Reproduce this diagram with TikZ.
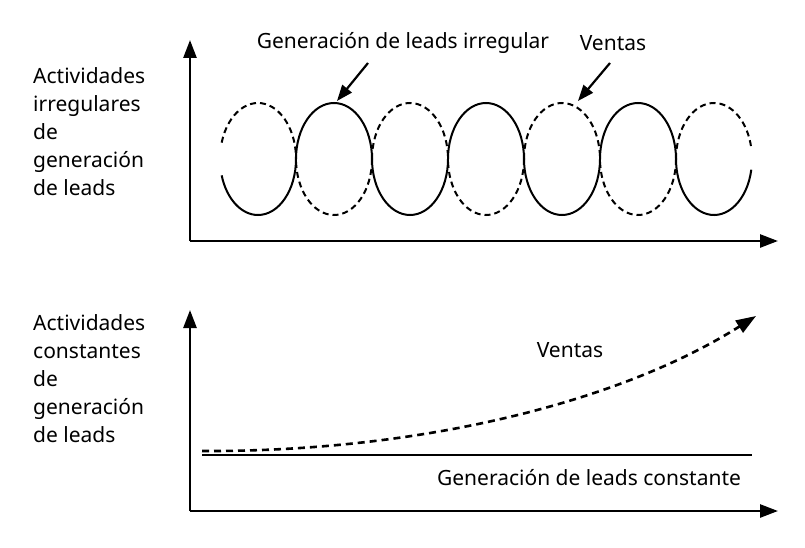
\documentclass[tikz,border=0pt]{standalone}
\usepackage{fontspec}
\setmainfont{Noto Sans}
\usetikzlibrary{arrows.meta}
\begin{document}
\begin{tikzpicture}[x=1pt,y=-1pt,
  >={Triangle[length=18pt,width=13pt]},
  every node/.style={font=\fontsize{21}{28}\selectfont, inner sep=0pt},
  axis/.style={->, line width=2.6pt},
  callout/.style={->, line width=2.2pt, >={Triangle[length=16pt,width=12pt]}},
  leads/.style={line width=2pt},
  sales/.style={line width=2pt, dash pattern=on 6pt off 4pt}]
\useasboundingbox (0,0) rectangle (805,548);

% top panel: axes
\coordinate (o1) at (190,241);
\coordinate (y1) at (190,40);
\coordinate (x1) at (778,241);
\draw [axis] (o1) -- (y1);
\draw [axis] (o1) -- (x1);

% labels
\node [anchor=north west, align=left] (irrlab) at (33,67) {Actividades\\irregulares\\de\\generación\\de leads};
\node (irrleads) at (403,43) {Generación de leads irregular};
\node (irrsales) at (613,43) {Ventas};

% irregular curves: sales dashed, leads solid
\foreach \cx/\a/\b in {258/197/360, 410/180/360, 562/180/360, 714/180/349}
  \draw [sales] (\cx,159) ++(\a:38 and 56) arc[start angle=\a, end angle=\b, x radius=38, y radius=56];
\foreach \cx in {334,486,638}
  \draw [sales] (\cx,159) ++(0:38 and 56) arc[start angle=0, end angle=180, x radius=38, y radius=56];
\foreach \cx/\a/\b in {258/0/163, 410/0/180, 562/0/180, 714/11/180}
  \draw [leads] (\cx,159) ++(\a:38 and 56) arc[start angle=\a, end angle=\b, x radius=38, y radius=56];
\foreach \cx in {334,486,638}
  \draw [leads] (\cx,159) ++(180:38 and 56) arc[start angle=180, end angle=360, x radius=38, y radius=56];

% callout arrows
\coordinate (irrfrom) at (368,63);
\coordinate (irrtip) at (337,101);
\coordinate (salfrom) at (610,63);
\coordinate (saltip) at (578,101);
\draw [callout] (irrfrom) -- (irrtip);
\draw [callout] (salfrom) -- (saltip);

% bottom panel: axes
\coordinate (o2) at (190,511);
\coordinate (y2) at (190,310);
\coordinate (x2) at (778,511);
\draw [axis] (o2) -- (y2);
\draw [axis] (o2) -- (x2);

% labels
\node [anchor=north west, align=left] (conlab) at (33,314) {Actividades\\constantes\\de\\generación\\de leads};
\node (consales) at (570,350) {Ventas};
\node (conleads) at (589,478) {Generación de leads constante};

% constant curves
\coordinate (l0) at (202,455);
\coordinate (l1) at (752,455);
\coordinate (s0) at (202,451);
\coordinate (s1) at (756,316);
\draw [leads, line width=2.4pt] (l0) -- (l1);
\draw [->, line width=2.6pt, dash pattern=on 7pt off 5pt, >={Triangle[length=20pt,width=14pt]}] (s0) .. controls (420,452) and (620,402) .. (s1);

\end{tikzpicture}
\end{document}
